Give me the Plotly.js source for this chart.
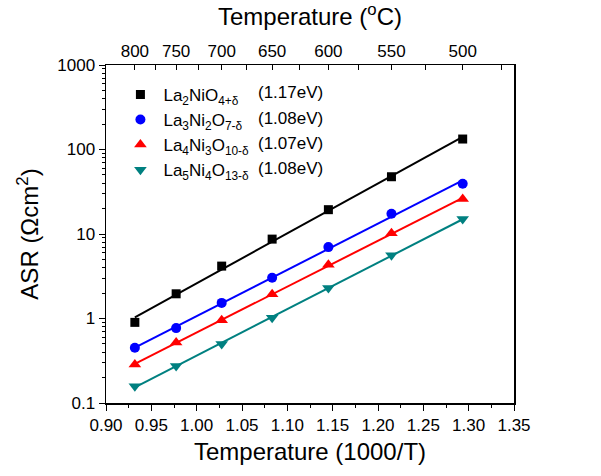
<!DOCTYPE html>
<html>
<head>
<meta charset="utf-8">
<script src="https://cdn.plot.ly/plotly-3.0.1.min.js"></script>
<style>html,body{margin:0;padding:0;background:#fff;}#chart{width:601px;height:476px;}</style>
</head>
<body>
<div id="chart"></div>
<script>
// ---- data ----
const tempsC = [800, 750, 700, 650, 600, 550, 500];
const seriesNames = [
  'La<sub>2</sub>NiO<sub>4+δ</sub>',
  'La<sub>3</sub>Ni<sub>2</sub>O<sub>7-δ</sub>',
  'La<sub>4</sub>Ni<sub>3</sub>O<sub>10-δ</sub>',
  'La<sub>5</sub>Ni<sub>4</sub>O<sub>13-δ</sub>'
];
const activationEnergies = ['(1.17eV)', '(1.08eV)', '(1.07eV)', '(1.08eV)'];
const asrLa2 = [0.90, 1.96, 4.17, 8.7, 19.4, 47.6, 133];
const asrLa3 = [0.45, 0.77, 1.53, 3.03, 7.0, 17.4, 39.3];
const asrLa4 = [0.285, 0.52, 0.955, 1.94, 4.32, 10.2, 25.9];
const asrLa5 = [0.158, 0.274, 0.50, 1.02, 2.29, 5.62, 15.0];
const topTickTemps = [800, 750, 700, 650, 600, 550, 500];
const topMinorTemps = [775, 725, 675, 625, 575, 525, 475];
const yTickVals = [0.1, 1, 10, 100, 1000];
const yTickText = ['0.1', '1', '10', '100', '1000'];

// ---- styles ----
const colors = ['#000000', '#0000ff', '#ff0000', '#008080'];
const symbols = ['square', 'circle', 'triangle-up', 'triangle-down'];
const sizes = [9, 10, 11, 11];
const FONT = 'Arial, "Liberation Sans", sans-serif';

const invT = t => 1000 / (t + 273.15);
const xVals = tempsC.map(invT);
const allSeries = [asrLa2, asrLa3, asrLa4, asrLa5];

function fit(xs, ys) {
  const ly = ys.map(v => Math.log10(v));
  const n = xs.length;
  const mx = xs.reduce((a, b) => a + b, 0) / n;
  const my = ly.reduce((a, b) => a + b, 0) / n;
  let sxy = 0, sxx = 0;
  for (let i = 0; i < n; i++) { sxy += (xs[i] - mx) * (ly[i] - my); sxx += (xs[i] - mx) ** 2; }
  const b = sxy / sxx, a = my - b * mx;
  const x0 = Math.min(...xs), x1 = Math.max(...xs);
  return { x: [x0, x1], y: [Math.pow(10, a + b * x0), Math.pow(10, a + b * x1)] };
}

const traces = [];
allSeries.forEach((ys, i) => {
  const f = fit(xVals, ys);
  traces.push({
    x: f.x, y: f.y, mode: 'lines', showlegend: false, hoverinfo: 'skip',
    line: { color: colors[i], width: 2 }
  });
});
allSeries.forEach((ys, i) => {
  traces.push({
    x: xVals, y: ys, mode: 'markers', name: seriesNames[i],
    marker: { symbol: symbols[i], size: sizes[i], color: colors[i] }
  });
});
// trace anchoring the top (Celsius) axis
traces.push({ x: xVals, y: asrLa2, xaxis: 'x2', mode: 'markers', showlegend: false,
  hoverinfo: 'skip', marker: { opacity: 0 } });

const xRange = [0.90, 1.35];
const rowY = [0.918, 0.843, 0.768, 0.695];
const annotations = activationEnergies.map((t, i) => ({
  xref: 'paper', yref: 'paper', x: 0.368, y: rowY[i], xanchor: 'left', yanchor: 'middle',
  text: t, showarrow: false, font: { family: FONT, size: 17, color: '#000' }
}));

const layout = {
  width: 601, height: 476,
  margin: { l: 106, r: 87, t: 65, b: 73 },
  paper_bgcolor: '#fff', plot_bgcolor: '#fff',
  font: { family: FONT, color: '#000', size: 16 },
  showlegend: true,
  legend: {
    x: 0.028, y: 0.965, xanchor: 'left', yanchor: 'top',
    bgcolor: 'rgba(0,0,0,0)', font: { family: FONT, size: 17, color: '#000' },
    itemwidth: 36, tracegroupgap: 0
  },
  xaxis: {
    range: xRange, showgrid: false, zeroline: false,
    showline: true, linecolor: '#000', linewidth: 1.5, mirror: true,
    ticks: 'outside', ticklen: 6, tickwidth: 1, tickcolor: '#000',
    tickmode: 'linear', tick0: 0.9, dtick: 0.05, tickformat: '.2f',
    tickfont: { family: FONT, size: 17, color: '#000' },
    minor: { ticks: 'outside', ticklen: 3, tickcolor: '#000', dtick: 0.025, tick0: 0.9 },
    title: { text: 'Temperature (1000/T)', font: { family: FONT, size: 24, color: '#000' }, standoff: 9 }
  },
  xaxis2: {
    overlaying: 'x', side: 'top', range: xRange, showgrid: false, zeroline: false,
    showline: true, linecolor: '#000', linewidth: 1.5,
    ticks: 'inside', ticklen: 5, tickcolor: '#000',
    tickmode: 'array', tickvals: topTickTemps.map(invT), ticktext: topTickTemps.map(String),
    tickfont: { family: FONT, size: 17, color: '#000' },
    minor: { ticks: 'inside', ticklen: 5, tickcolor: '#000', tickmode: 'array', tickvals: topMinorTemps.map(invT) },
    title: { text: 'Temperature (<sup>o</sup>C)', font: { family: FONT, size: 24, color: '#000' }, standoff: 10 }
  },
  yaxis: {
    type: 'log', range: [-1, 3], showgrid: false, zeroline: false,
    showline: true, linecolor: '#000', linewidth: 1.5, mirror: true,
    ticks: 'outside', ticklen: 6, tickcolor: '#000',
    tickmode: 'array', tickvals: yTickVals, ticktext: yTickText,
    tickfont: { family: FONT, size: 17, color: '#000' },
    minor: { ticks: 'outside', ticklen: 3, tickcolor: '#000', dtick: 'D1' },
    title: { text: 'ASR (Ωcm<sup>2</sup>)', font: { family: FONT, size: 24, color: '#000' }, standoff: 12 }
  },
  annotations: annotations
};

Plotly.newPlot('chart', traces, layout, { staticPlot: true, displayModeBar: false });
</script>
</body>
</html>
